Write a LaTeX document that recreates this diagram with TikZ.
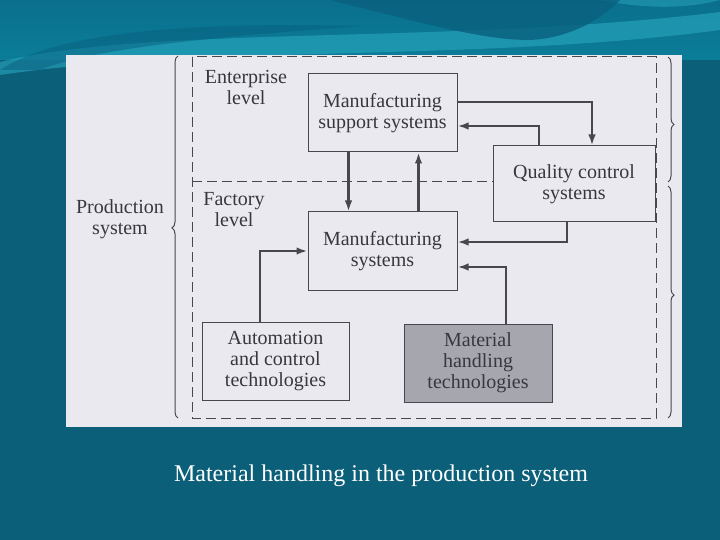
\documentclass[tikz,border=0pt]{standalone}
\usepackage{fontspec}
\setmainfont{Liberation Serif}
\usepackage{xcolor}
\usetikzlibrary{arrows.meta,calc,decorations.pathreplacing}

\definecolor{slidebg}{HTML}{0B5F79}
\definecolor{wavetop}{HTML}{0A6F8C}
\definecolor{wavemid}{HTML}{0B7D99}
\definecolor{wavelight}{HTML}{2AA8C0}
\definecolor{wavedark}{HTML}{09607E}
\definecolor{scanpaper}{HTML}{E9E9EF}
\definecolor{inkgray}{HTML}{48484C}
\definecolor{textgray}{HTML}{38383C}
\definecolor{shadegray}{HTML}{A6A6AE}
\newcommand{\boxfont}{\fontsize{20}{21}\selectfont}

\begin{document}
\begin{tikzpicture}[x=1pt, y=-1pt, >=Stealth,
    blk/.style={draw=inkgray, line width=1pt, minimum width=149pt, minimum height=78pt,
        inner sep=0pt, align=center, text=textgray, font=\boxfont},
    flow/.style={-{Latex[length=11pt,width=7.5pt]}, draw=inkgray, line width=2.2pt},
    frame/.style={draw=inkgray, line width=1pt, dash pattern=on 10pt off 5pt},
    brc/.style={draw=inkgray, line width=1pt, decorate,
        decoration={brace, amplitude=6pt, aspect=#1}},
    lvl/.style={text=textgray, font=\boxfont, align=center}]

    % slide background and waves
    \fill[slidebg] (0,0) rectangle (720,540);
    \shade[top color=wavetop, bottom color=wavemid] (0,0) rectangle (720,60);
    \fill[wavelight, opacity=.6] (0,62) .. controls (150,25) and (450,45) .. (720,12)
        -- (720,30) .. controls (480,62) and (200,45) .. (0,75) -- cycle;
    \fill[wavelight, opacity=.5] (600,0) .. controls (650,10) and (690,8) .. (720,0) -- cycle;
    \fill[wavedark, opacity=.8] (330,0) .. controls (420,22) and (480,40) .. (530,40)
        .. controls (570,38) and (600,20) .. (620,0) -- cycle;
    \fill[wavedark, opacity=.5] (0,70) .. controls (60,30) and (200,22) .. (360,26)
        .. controls (250,35) and (100,45) .. (40,70) -- cycle;

    % scanned figure
    \fill[scanpaper] (66,55) rectangle (682,427);

    \node[blk] (mss) at (382.5,113) {Manufacturing\\support systems};
    \node[blk, minimum width=162pt, minimum height=76pt] (qc) at (574,184) {Quality control\\systems};
    \node[blk] (ms) at (382.5,251) {Manufacturing\\systems};
    \node[blk, minimum width=147pt] (auto) at (275.5,361) {Automation\\and control\\technologies};
    \node[blk, minimum width=148pt, fill=shadegray] (mh) at (478,363) {Material\\handling\\technologies};

    \draw[frame] (192,57) rectangle (656,418);
    \draw[frame] (192,182) -- (qc.west |- 192,182);

    \node[lvl] (ent) at (246,87) {Enterprise\\level};
    \node[lvl] (fac) at (234,210) {Factory\\level};
    \node[lvl] (prod) at (120,219) {Production\\system};

    \draw[brc=0.525] (178,418) -- (178,56);
    \draw[brc=0.54] (668,57) -- (668,182);
    \draw[brc=0.47] (668,186) -- (668,418);

    \draw[flow] ([yshift=11pt]mss.east) -| ([xshift=18pt]qc.north);
    \draw[flow] ([xshift=-35pt]qc.north) |- ([yshift=-13pt]mss.east);
    \draw[flow] ([xshift=-34pt]mss.south) -- ([xshift=-34pt]ms.north);
    \draw[flow] ([xshift=36pt]ms.north) -- ([xshift=36pt]mss.south);
    \draw[flow] ([xshift=-7pt]qc.south) |- ([yshift=9pt]ms.east);
    \draw[flow] ([xshift=28pt]mh.north) |- ([yshift=-16pt]ms.east);
    \draw[flow] ([xshift=-15.5pt]auto.north) |- (ms.west);

    \node[text=white, font=\fontsize{24}{28}\selectfont] (cap) at (381,476)
        {Material handling in the production system};
\end{tikzpicture}
\end{document}
